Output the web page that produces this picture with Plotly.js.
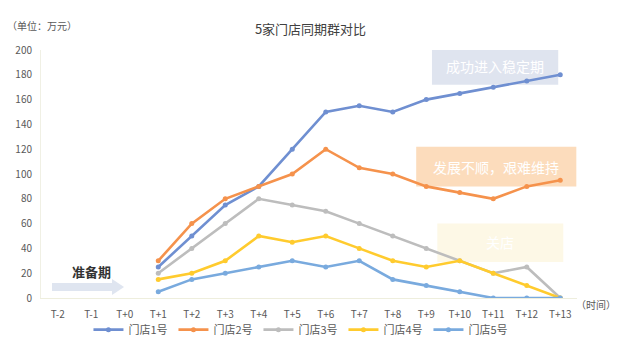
<!DOCTYPE html>
<html><head><meta charset="utf-8">
<script src="https://cdn.plot.ly/plotly-3.0.1.min.js"></script>
<style>html,body{margin:0;padding:0;background:#fff}#c{width:621px;height:347px}</style>
</head><body><div id="c"></div>
<script>
var categories = ["T-2","T-1","T+0","T+1","T+2","T+3","T+4","T+5","T+6","T+7","T+8","T+9","T+10","T+11","T+12","T+13"];
var activeCats = ["T+1","T+2","T+3","T+4","T+5","T+6","T+7","T+8","T+9","T+10","T+11","T+12","T+13"];
var seriesNames = ["门店1号","门店2号","门店3号","门店4号","门店5号"];
var store1 = [25,50,75,90,120,150,155,150,160,165,170,175,180];
var store2 = [30,60,80,90,100,120,105,100,90,85,80,90,95];
var store3 = [20,40,60,80,75,70,60,50,40,30,20,25,0];
var store4 = [15,20,30,50,45,50,40,30,25,30,20,10,0];
var store5 = [5,15,20,25,30,25,30,15,10,5,0,0,0];
var colors = ["#6f8fd1","#f5924c","#bdbdbd","#ffcb2e","#79aade"];
var allSeries = [store1,store2,store3,store4,store5];
var font = "Noto Sans CJK SC, Noto Sans, sans-serif";
var traces = allSeries.map(function(v,i){
  return {x: activeCats, y: v, name: seriesNames[i], type:"scatter", mode:"lines+markers",
    line:{color:colors[i], width:2.6}, marker:{color:colors[i], size:5}};
});
traces.unshift({x:categories, y:categories.map(function(){return null;}), showlegend:false, hoverinfo:"skip", mode:"lines"});
var layout = {
  width:621, height:347,
  margin:{l:41, r:44, t:50, b:49, autoexpand:false},
  paper_bgcolor:"#fff", plot_bgcolor:"#fff",
  font:{family:font, color:"#595959", size:10},
  title:{text:"5家门店同期群对比", x:0.5, xanchor:"center", y:0.915, yanchor:"middle", font:{size:13, color:"#404040", family:font}},
  xaxis:{type:"category", categoryorder:"array", categoryarray:categories, range:[-0.5,15.5],
    showgrid:false, zeroline:false, showline:true, linecolor:"#eeeedd", linewidth:1,
    tickfont:{size:10, color:"#595959"}, ticks:"", ticklabelstandoff:7, fixedrange:true, automargin:false},
  yaxis:{range:[0,200], dtick:20, showgrid:false, zeroline:false, showline:true, linecolor:"#f0f0e4", linewidth:1,
    tickfont:{size:10, color:"#595959"}, ticks:"", ticklabelstandoff:6, automargin:false},
  legend:{orientation:"h", x:0.485, xanchor:"center", yref:"container", y:0.05, yanchor:"middle", bgcolor:"rgba(0,0,0,0)", font:{size:11, color:"#595959"}, itemwidth:30, entrywidth:40, tracegroupgap:0},
  shapes:[
    {type:"rect", xref:"x", yref:"y", x0:11.17, x1:14.94, y0:172, y1:202, fillcolor:"#dfe4ef", line:{width:0}, layer:"below"},
    {type:"rect", xref:"x", yref:"y", x0:10.7, x1:15.48, y0:90, y1:122, fillcolor:"#fcdcbc", line:{width:0}, layer:"below"},
    {type:"rect", xref:"x", yref:"y", x0:11.33, x1:15.09, y0:29, y1:60, fillcolor:"#fdf8e6", line:{width:0}, layer:"below"},
    {type:"path", xref:"paper", yref:"paper", path:"M0.0205,0.0605 L0.1325,0.0605 L0.1325,0.0766 L0.1549,0.0444 L0.1325,0.0121 L0.1325,0.0282 L0.0205,0.0282 Z", fillcolor:"#dfe5f0", line:{width:0}, layer:"below"}
  ],
  annotations:[
    {text:"成功进入稳定期", xref:"x", yref:"y", x:13.05, y:187, showarrow:false, font:{size:14, color:"#ffffff", family:font}},
    {text:"发展不顺，艰难维持", xref:"x", yref:"y", x:13.09, y:106, showarrow:false, font:{size:14, color:"#ffffff", family:font}},
    {text:"关店", xref:"x", yref:"y", x:13.21, y:45, showarrow:false, font:{size:14, color:"#ffffff", family:font}},
    {text:"<b>准备期</b>", xref:"paper", yref:"paper", x:0.054, xanchor:"left", y:0.105, yanchor:"middle", showarrow:false, font:{size:13, color:"#333333", family:"Noto Sans CJK SC, serif"}},
    {text:"（单位：万元）", xref:"paper", yref:"paper", x:-0.068, xanchor:"left", y:1.1, yanchor:"middle", showarrow:false, font:{size:10, color:"#595959", family:font}},
    {text:"（时间）", xref:"paper", yref:"paper", x:0.995, xanchor:"left", y:-0.025, yanchor:"middle", showarrow:false, font:{size:10, color:"#595959", family:font}}
  ]
};
Plotly.newPlot("c", traces, layout, {displayModeBar:false, staticPlot:true});
</script></body></html>
